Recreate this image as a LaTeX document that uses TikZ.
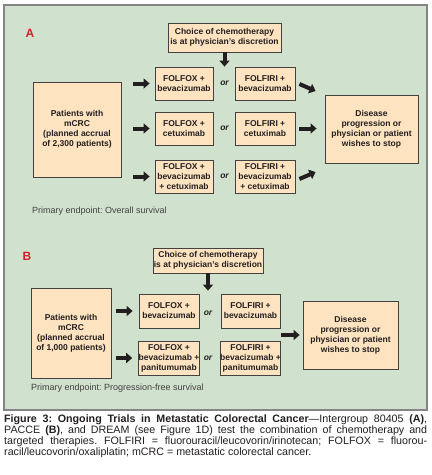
\documentclass[tikz,border=0pt]{standalone}
\usepackage{fontspec}
\setmainfont{Liberation Sans}
\usetikzlibrary{arrows.meta,calc}
\definecolor{panelgreen}{HTML}{D0E1CD}
\definecolor{boxfill}{HTML}{FDE3C0}
\definecolor{labelred}{HTML}{D2232A}
\definecolor{ink}{HTML}{231F20}
\definecolor{framegray}{HTML}{858585}
\frenchspacing
\begin{document}
\begin{tikzpicture}[x=1pt,y=-1pt,
  box/.style={draw=ink!85, line width=0.8pt, fill=boxfill, align=center,
    font=\fontsize{8.5}{10}\selectfont\bfseries, text=ink, inner sep=0pt},
  bigarrow/.style={draw=ink, line width=4pt, -{Triangle[length=6pt,width=10pt]}},
  ortext/.style={font=\fontsize{8.5}{10}\selectfont\bfseries\itshape, text=ink},
  note/.style={font=\fontsize{9}{10}\selectfont, text=ink!85, anchor=west, inner sep=0pt},
  panellabel/.style={font=\fontsize{12}{12}\selectfont\bfseries, text=labelred, inner sep=0pt}]
\useasboundingbox (0,0) rectangle (432,475);
\fill[white] (0,0) rectangle (432,475);
% panel
\node[draw=framegray, line width=1.2pt, fill=panelgreen, minimum width=423pt, minimum height=405pt, inner sep=0pt] (panel) at (215.5,207.5) {};

% ---------------- Panel A ----------------
\node[panellabel] (labA) at (30,33) {A};
\node[box, minimum width=113pt, minimum height=29pt] (choiceA) at (224.5,37.5) {Choice of chemotherapy\\is at physician's discretion};
\node[box, minimum width=88pt, minimum height=95pt] (patA) at (77,129.5) {Patients with\\mCRC\\(planned accrual\\of 2,300 patients)};
\node[box, minimum width=58pt, minimum height=33pt] (f1A) at (184,83.5) {FOLFOX +\\bevacizumab};
\node[box, minimum width=58pt, minimum height=33pt] (f2A) at (184,128.5) {FOLFOX +\\cetuximab};
\node[box, minimum width=58pt, minimum height=33pt] (f3A) at (184,176.5) {FOLFOX +\\bevacizumab\\+ cetuximab};
\node[box, minimum width=60pt, minimum height=33pt] (i1A) at (265,83.5) {FOLFIRI +\\bevacizumab};
\node[box, minimum width=60pt, minimum height=33pt] (i2A) at (265,128.5) {FOLFIRI +\\cetuximab};
\node[box, minimum width=60pt, minimum height=33pt] (i3A) at (265,176.5) {FOLFIRI +\\bevacizumab\\+ cetuximab};
\node[ortext] (or1A) at (224.5,83.5) {or};
\node[ortext] (or2A) at (224.5,128.5) {or};
\node[ortext] (or3A) at (224.5,176.5) {or};
\node[box, minimum width=93pt, minimum height=68pt] (disA) at (371.5,129) {Disease\\progression or\\physician or patient\\wishes to stop};
\node[note] (endA) at (32,211) {Primary endpoint: Overall survival};

\draw[bigarrow, shorten >=0pt] (choiceA.south) -- (choiceA.south |- f1A.north);
\draw[bigarrow, shorten <=12pt, shorten >=5pt] (f1A.west -| patA.east) -- (f1A.west);
\draw[bigarrow, shorten <=12pt, shorten >=5pt] (f2A.west -| patA.east) -- (f2A.west);
\draw[bigarrow, shorten <=12pt, shorten >=5pt] (f3A.west -| patA.east) -- (f3A.west);
\draw[bigarrow] ($(i1A.east)+(4,0.5)$) -- ($(disA.west)+(-9,-38)$);
\draw[bigarrow, shorten <=4pt, shorten >=8pt] (i2A.east) -- (i2A.east -| disA.west);
\draw[bigarrow] ($(i3A.east)+(4,2.5)$) -- ($(disA.west)+(-9,43)$);

% ---------------- Panel B ----------------
\node[panellabel] (labB) at (27,256) {B};
\node[box, minimum width=110pt, minimum height=25pt] (choiceB) at (208,260.5) {Choice of chemotherapy\\is at physician's discretion};
\node[box, minimum width=80pt, minimum height=90pt] (patB) at (71,333) {Patients with\\mCRC\\(planned accrual\\of 1,000 patients)};
\node[box, minimum width=60pt, minimum height=34pt] (f1B) at (169,311) {FOLFOX +\\bevacizumab};
\node[box, minimum width=60pt, minimum height=34pt] (f2B) at (169,358) {FOLFOX +\\bevacizumab +\\panitumumab};
\node[box, minimum width=59pt, minimum height=34pt] (i1B) at (250.5,311) {FOLFIRI +\\bevacizumab};
\node[box, minimum width=59pt, minimum height=34pt] (i2B) at (250.5,358) {FOLFIRI +\\bevacizumab +\\panitumumab};
\node[ortext] (or1B) at (208,313) {or};
\node[ortext] (or2B) at (208,358) {or};
\node[box, minimum width=95pt, minimum height=68pt] (disB) at (350.5,335) {Disease\\progression or\\physician or patient\\wishes to stop};
\node[note] (endB) at (31,388) {Primary endpoint: Progression-free survival};
\coordinate (rbs) at (281,335);

\draw[bigarrow, shorten >=3pt] (choiceB.south) -- (choiceB.south |- f1B.north);
\draw[bigarrow, shorten <=5pt, shorten >=6pt] (f1B.west -| patB.east) -- (f1B.west);
\draw[bigarrow, shorten <=5pt, shorten >=6pt] (f2B.west -| patB.east) -- (f2B.west);
\draw[bigarrow, shorten >=3pt] (rbs) -- (rbs -| disB.west);

% ---------------- Caption ----------------
\node[anchor=north west, inner sep=0pt, text width=423pt, align=justify,
  font=\fontsize{10.7}{10.8}\selectfont, text=ink] (cap) at (4,415)
  {\textbf{Figure 3: Ongoing Trials in Metastatic Colorectal Cancer}—Intergroup 80405 \textbf{(A)},\linebreak
   PACCE \textbf{(B)}, and DREAM (see Figure 1D) test the combination of chemotherapy and\linebreak
   targeted therapies. FOLFIRI = fluorouracil/leucovorin/irinotecan; FOLFOX = fluorou-\linebreak
   racil/leucovorin/oxaliplatin; mCRC = metastatic colorectal cancer.};
\end{tikzpicture}
\end{document}
